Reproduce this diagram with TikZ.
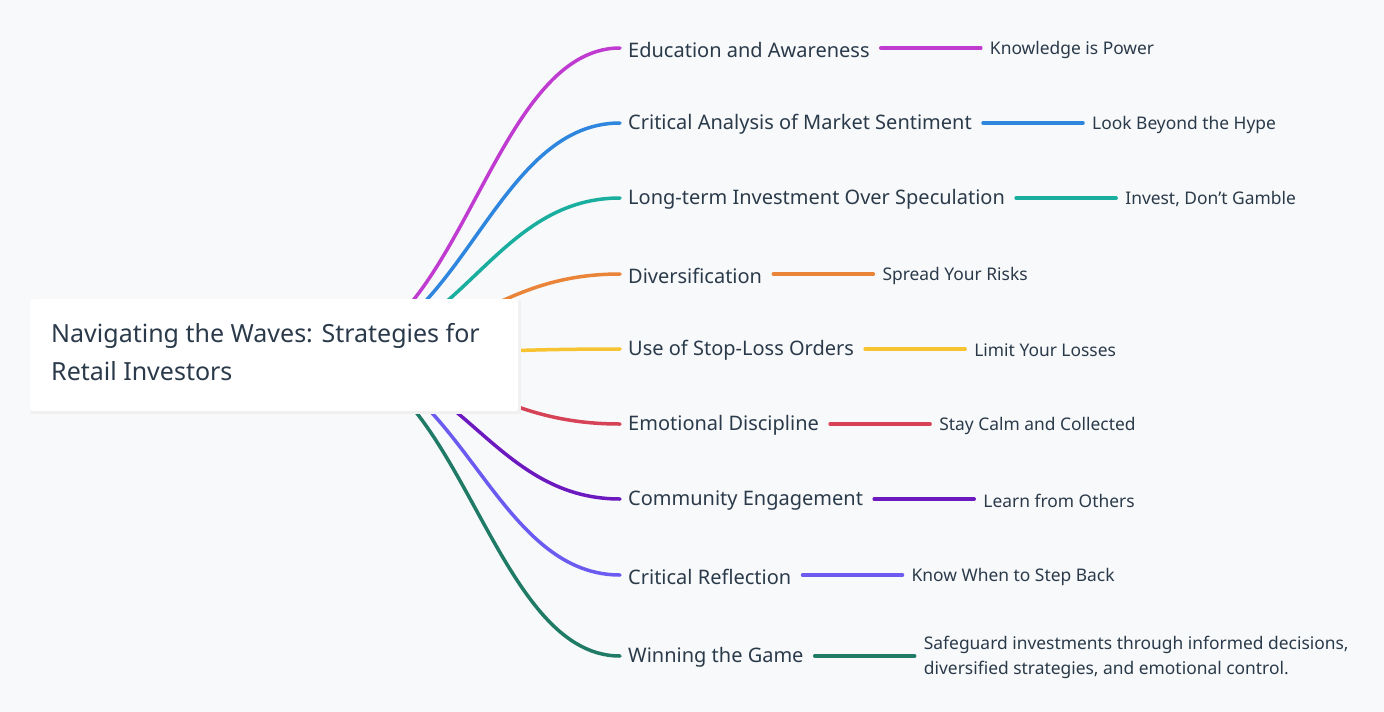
\documentclass[tikz,border=0pt]{standalone}
\usepackage{fontspec}
\setmainfont{Noto Sans}
\begin{document}
\begin{tikzpicture}[x=1pt,y=-1pt,
 br/.style={anchor=west,inner sep=0pt,text=txt,font=\fontsize{20}{24}\selectfont},
 lf/.style={anchor=west,inner sep=0pt,text=txt,font=\fontsize{17.4}{25}\selectfont,align=left},
 cv/.style={line width=3.5pt,line cap=round}]
\definecolor{bg}{HTML}{F7F9FA}\definecolor{txt}{HTML}{2B3A4A}
\definecolor{c1}{HTML}{C03BD0}\definecolor{c2}{HTML}{2E86DE}\definecolor{c3}{HTML}{1AAE9F}
\definecolor{c4}{HTML}{EA8438}\definecolor{c5}{HTML}{F7C331}\definecolor{c6}{HTML}{D64356}
\definecolor{c7}{HTML}{6C1AC0}\definecolor{c8}{HTML}{6B5BF0}\definecolor{c9}{HTML}{1F7A66}
\fill[bg] (0,0) rectangle (1384,712);
\useasboundingbox (0,0) rectangle (1384,712);
\coordinate (o) at (320,355);
\foreach \y/\c/\t/\l/\w in {
 48/c1/Education and Awareness/Knowledge is Power/n1,
 123/c2/Critical Analysis of Market Sentiment/Look Beyond the Hype/n2,
 198/c3/Long-term Investment Over Speculation/{Invest, Don't Gamble}/n3,
 274/c4/Diversification/Spread Your Risks/n4,
 349/c5/Use of Stop-Loss Orders/Limit Your Losses/n5,
 424/c6/Emotional Discipline/Stay Calm and Collected/n6,
 499/c7/Community Engagement/Learn from Others/n7,
 575/c8/Critical Reflection/Know When to Step Back/n8,
 656/c9/Winning the Game/{Safeguard investments through informed decisions,\\diversified strategies, and emotional control.}/n9}{
 \node[br] (\w) at (628,\y+1.5) {\t};
 \coordinate (\w s) at (620,\y);
 \draw[cv,\c] (o) .. controls (460,355) and (490,\y) .. (\w s);
 \coordinate (\w a) at ([xshift=11pt]\w.east);
 \coordinate (\w b) at ([xshift=111pt]\w.east);
 \draw[cv,\c] (\w a|-\w s) -- (\w b|-\w s);
 \node[lf] (\w l) at ([xshift=9pt]\w b) {\l};
}
\fill[black!6] (31,301) rectangle (521,414);
\node[fill=white,rounded corners=3pt,minimum width=488pt,minimum height=112pt,anchor=north west,inner sep=0pt] (root) at (30,299) {};
\node[anchor=north west,text=txt,align=left,inner sep=0pt,font=\fontsize{25}{38}\selectfont] (rt) at (51,323) {Navigating the Waves: Strategies for\\Retail Investors};
\end{tikzpicture}
\end{document}
